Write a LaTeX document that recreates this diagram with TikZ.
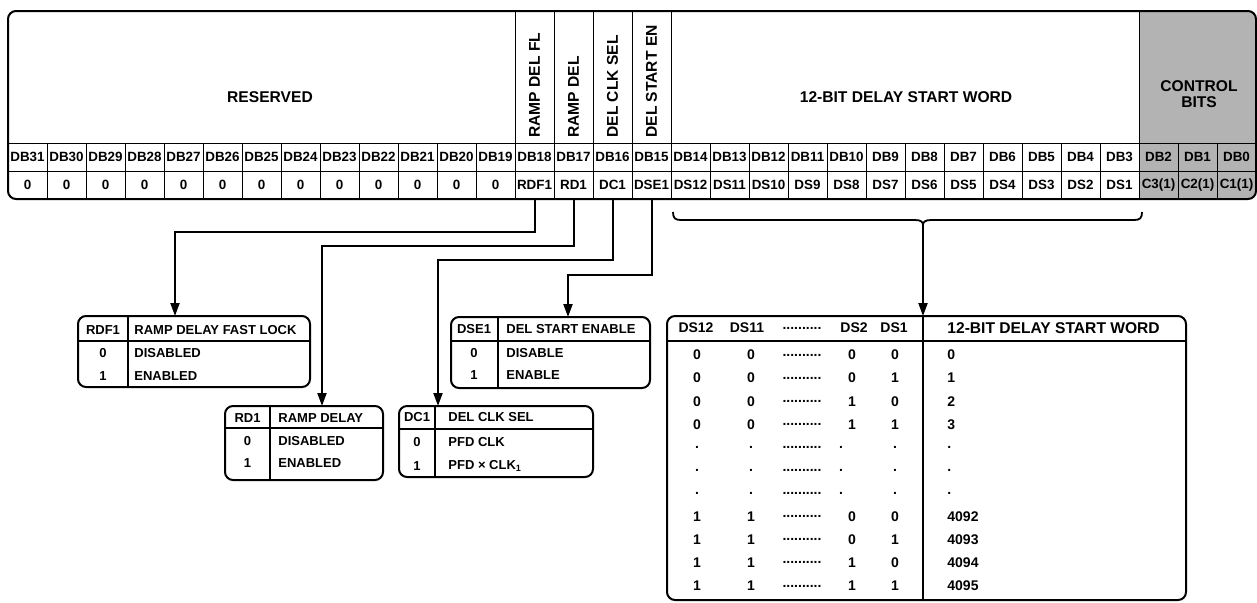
\documentclass[tikz,border=0pt]{standalone}
\usepackage{fontspec}
\setmainfont{Liberation Sans}
\usetikzlibrary{arrows.meta, positioning, calc}

\definecolor{ctrlgray}{RGB}{179,179,179}

\begin{document}
\begin{tikzpicture}[x=0.5pt, y=-0.5pt, >={Triangle[length=6.5pt, width=4.5pt]},
    cell/.style={draw, line width=0.5pt, minimum width=19.5pt,
      minimum height=14pt, inner sep=0pt,
      font=\bfseries\fontsize{6.7}{7}\selectfont},
    hdr/.style={align=center, inner sep=0pt,
      font=\bfseries\fontsize{7.8}{8}\selectfont},
    vhdr/.style={hdr, rotate=90, anchor=west},
    tab/.style={inner sep=0pt, font=\bfseries\fontsize{6.5}{7}\selectfont},
    big/.style={inner sep=0pt, font=\bfseries\fontsize{7}{8}\selectfont},
    frame/.style={line width=1pt, rounded corners=4pt},
    rule/.style={line width=0.6pt},
    link/.style={line width=1pt, ->}]
  \useasboundingbox (0,0) rectangle (1257,602);

  % Register
  \begin{scope}
    \clip[rounded corners=4pt] (8,11) rectangle (1256,199);
    \fill[ctrlgray] (1139,11) rectangle (1256,199);
    \foreach \x in {515,554,593,632,671,1139}
      \draw[line width=0.5pt] (\x,11) -- (\x,143);
    % Bit numbers
    \foreach \i in {0,...,31} {
      \pgfmathtruncatemacro\b{31-\i}
      \node[cell] (db\b) at (27.5+39*\i,157) {DB\b};
    }
    % Bit contents
    \foreach \lab [count=\i from 0] in {0,0,0,0,0,0,0,0,0,0,0,0,0,
        RDF1,RD1,DC1,DSE1,DS12,DS11,DS10,DS9,DS8,DS7,DS6,DS5,DS4,DS3,DS2,DS1,
        {C3(1)},{C2(1)},{C1(1)}} {
      \pgfmathtruncatemacro\b{31-\i}
      \node[cell] (bit\b) at (27.5+39*\i,185) {\lab};
    }
  \end{scope}
  \draw[frame] (8,11) rectangle (1256,199);

  % Field names
  \node[hdr] (reserved) at (270,97) {RESERVED};
  \node[vhdr] (rdfname) at (534.5,138) {RAMP DEL FL};
  \node[vhdr] (rdname) at (573.5,138) {RAMP DEL};
  \node[vhdr] (dcname) at (612.5,138) {DEL CLK SEL};
  \node[vhdr] (dsename) at (651.5,138) {DEL START EN};
  \node[hdr] (dsname) at (906,97) {12-BIT DELAY START WORD};
  \node[hdr] (ctrl) at (1199,94) {CONTROL\\BITS};

  % RDF1 table
  \draw[frame] (78,316) rectangle (310,387);
  \draw[rule] (128,316) -- (128,387) (78,341) -- (310,341);
  \coordinate (rdf) at (175,316);
  \node[tab] (rdfa) at (103,330) {RDF1};
  \node[tab, anchor=west] (rdfb) at (134,330) {RAMP DELAY FAST LOCK};
  \foreach \v/\t/\y in {0/DISABLED/353, 1/ENABLED/376} {
    \node[tab] (rdfv\v) at (103,\y) {\v};
    \node[tab, anchor=west] (rdft\v) at (134,\y) {\t};
  }

  % RD1 table
  \draw[frame] (225,406) rectangle (383,480);
  \draw[rule] (270,406) -- (270,480) (225,428) -- (383,428);
  \coordinate (rd) at (322,406);
  \node[tab] (rda) at (247.5,418) {RD1};
  \node[tab, anchor=west] (rdb) at (278,418) {RAMP DELAY};
  \foreach \v/\t/\y in {0/DISABLED/441, 1/ENABLED/463} {
    \node[tab] (rdv\v) at (247.5,\y) {\v};
    \node[tab, anchor=west] (rdt\v) at (278,\y) {\t};
  }

  % DC1 table
  \draw[frame] (399,406) rectangle (593,477);
  \draw[rule] (435,406) -- (435,477) (399,429) -- (593,429);
  \coordinate (dc) at (438,406);
  \node[tab] (dca) at (417,417) {DC1};
  \node[tab, anchor=west] (dcb) at (448,417) {DEL CLK SEL};
  \node[tab] (dcv0) at (417,442) {0};
  \node[tab, anchor=west] (dct0) at (448,442) {PFD CLK};
  \node[tab] (dcv1) at (417,466) {1};
  \node[tab, anchor=west] (dct1) at (448,466) {PFD × CLK\textsubscript{1}};

  % DSE1 table
  \draw[frame] (451,317) rectangle (650,388);
  \draw[rule] (498,317) -- (498,388) (451,341) -- (650,341);
  \coordinate (dse) at (568,317);
  \node[tab] (dsea) at (474,329) {DSE1};
  \node[tab, anchor=west] (dseb) at (506,329) {DEL START ENABLE};
  \foreach \v/\t/\y in {0/DISABLE/353, 1/ENABLE/375} {
    \node[tab] (dsev\v) at (474,\y) {\v};
    \node[tab, anchor=west] (dset\v) at (506,\y) {\t};
  }

  % Delay start word table
  \draw[frame] (667,316) rectangle (1186,600);
  \draw[rule] (923,316) -- (923,600) (667,341) -- (1186,341);
  \coordinate (word) at (923,316);
  \node[big] (h12) at (696,328) {DS12};
  \node[big] (h11) at (747,328) {DS11};
  \node[big] (hdots) at (802,328) {..........};
  \node[big] (h2) at (854,328) {DS2};
  \node[big] (h1) at (894,328) {DS1};
  \node[big, anchor=west, font=\bfseries\fontsize{7.8}{8}\selectfont] (hw)
    at (947,328) {12-BIT DELAY START WORD};
  \foreach \a/\b/\c/\cx/\d/\w [count=\k from 0] in
      {0/0/0/852/0/0, 0/0/0/852/1/1, 0/0/1/852/0/2, 0/0/1/852/1/3,
       ./././841/./., ./././841/./., ./././841/./.,
       1/1/0/852/0/4092, 1/1/0/852/1/4093, 1/1/1/852/0/4094, 1/1/1/852/1/4095} {
    \node[big] (ra\k) at (697,355+23.1*\k) {\a};
    \node[big] (rb\k) at (751,355+23.1*\k) {\b};
    \node[big] (rd\k) at (802,355+23.1*\k) {..........};
    \node[big] (rc\k) at (\cx,355+23.1*\k) {\c};
    \node[big] (re\k) at (895,355+23.1*\k) {\d};
    \node[big, anchor=west] (rw\k) at (947,355+23.1*\k) {\w};
  }

  % Brace over DS12..DS1
  \coordinate (bt) at (923,225);
  \draw[line width=0.9pt] (673,212) .. controls (673,218) and (675,220) .. (681,220)
    -- (915,220) .. controls (921,220) and (923,222) .. (bt)
    .. controls (923,222) and (925,220) .. (931,220) -- (1134,220)
    .. controls (1140,220) and (1142,218) .. (1142,212);

  % Connectors
  \draw[link] (bit18.south) -- ++(0,32) -| (rdf);
  \draw[link] (bit17.south) -- ++(0,46) -| (rd);
  \draw[link] (bit16.south) -- ++(0,60) -| (dc);
  \draw[link] (bit15.south) -- ++(0,75) -| (dse);
  \draw[link] (bt) -- (word);
\end{tikzpicture}
\end{document}
